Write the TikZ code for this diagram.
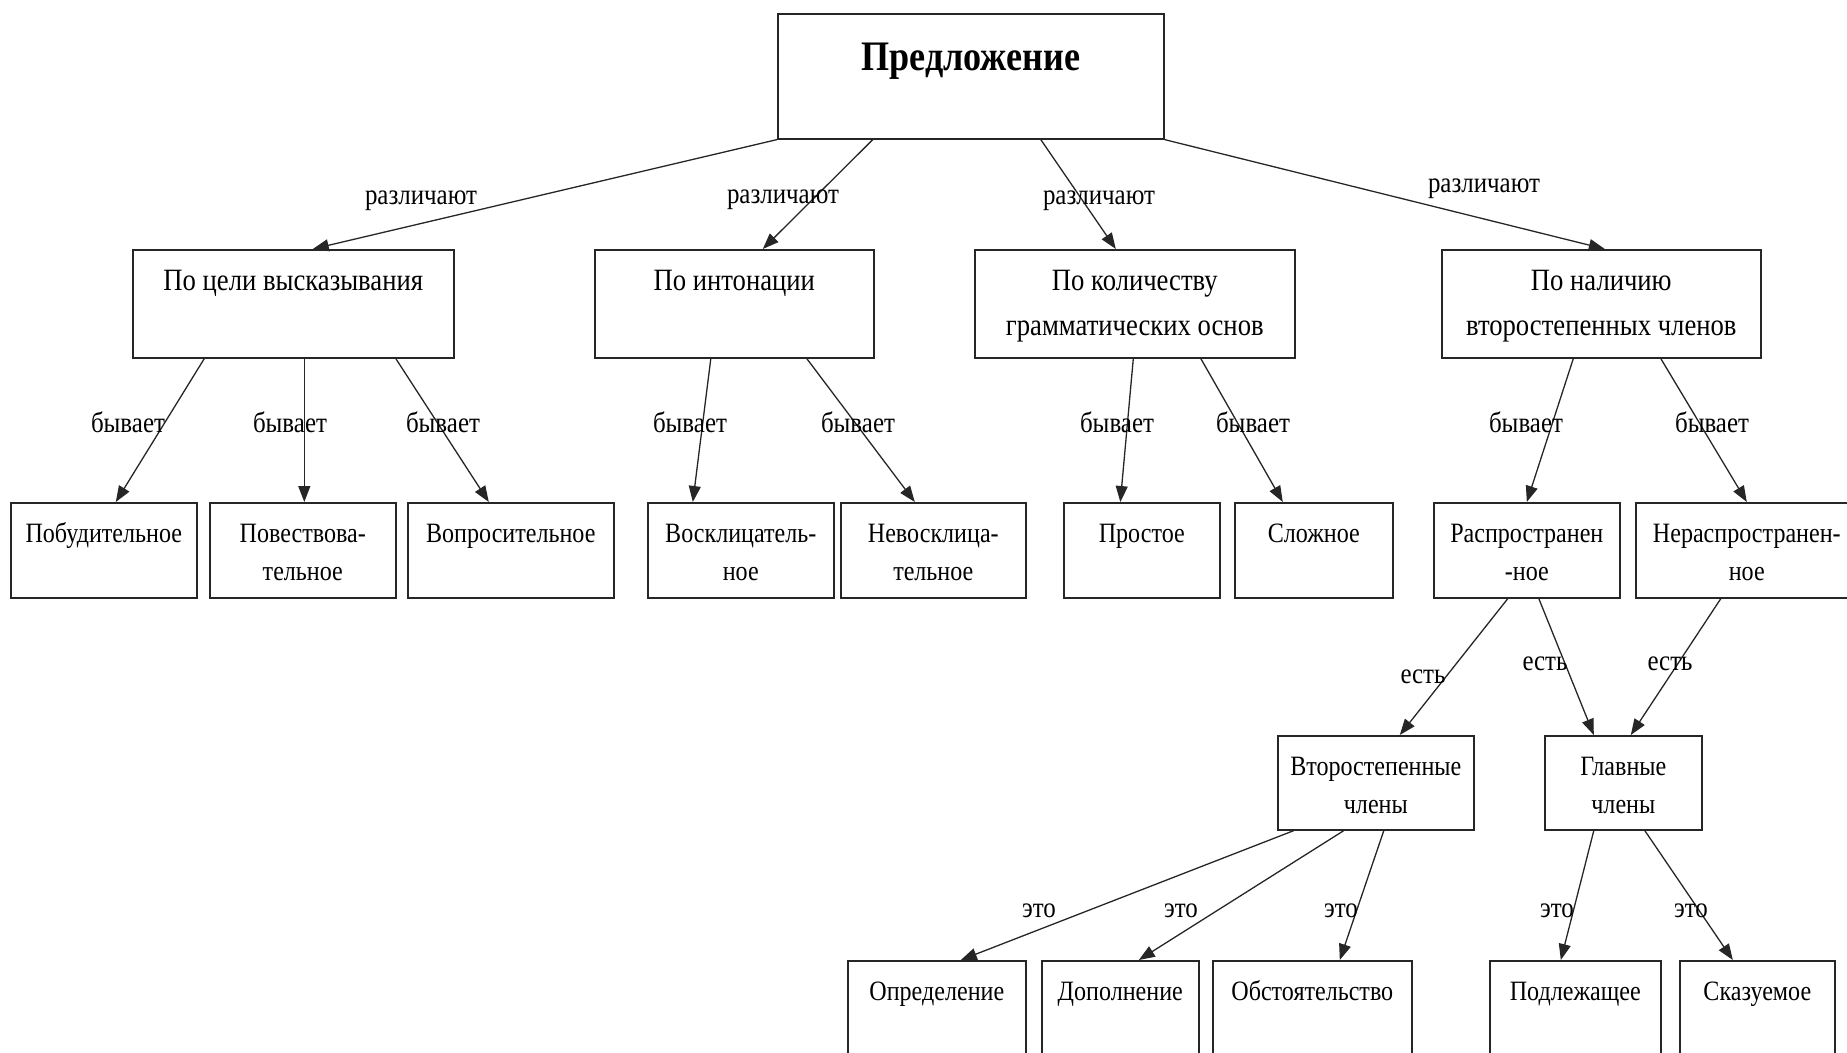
\documentclass[tikz,border=0pt]{standalone}
\usepackage{fontspec}
\setmainfont[FakeStretch=0.86]{Liberation Serif}
\usetikzlibrary{arrows.meta}
\tikzset{term/.style={rectangle,draw=black!85,line width=1.6pt,inner sep=0pt,anchor=north west},
head/.style={term,font=\fontsize{42}{46}\selectfont\bfseries,execute at begin node={\def\boxgap{57pt}}},
crit/.style={term,font=\fontsize{31}{45}\selectfont,execute at begin node={\def\boxgap{41pt}}},
kind/.style={term,font=\fontsize{28}{37.5}\selectfont},
verb/.style={anchor=base,inner sep=0pt,font=\fontsize{29}{29}\selectfont},
rel/.style={->,line width=1.3pt,draw=black!85},
>={Triangle[length=16pt,width=12pt]}}
\newcommand{\boxgap}{40pt}
\newcommand{\termbox}[7]{
\node (#1) [#2] at (#3,#4) {\parbox[t][#6pt][t]{#5pt}{\centering\rule{0pt}{\boxgap}#7}};
}
\begin{document}
\begin{tikzpicture}[x=1pt,y=-1pt]
  \useasboundingbox (0,0) rectangle (1847,1052);
  \clip (0,0) rectangle (1847,1052);
  \termbox{sent}{head}{777}{13}{386}{125}{Предложение}

  \termbox{goal}{crit}{132}{249}{321}{108}{По цели высказывания}
  \termbox{inton}{crit}{594}{249}{279}{108}{По интонации}
  \termbox{basis}{crit}{974}{249}{320}{108}{По количеству\\грамматических основ}
  \termbox{minor}{crit}{1441}{249}{319}{108}{По наличию\\второстепенных членов}

  \termbox{goal1}{kind}{10}{502}{186}{95}{Побудительное}
  \termbox{goal2}{kind}{209}{502}{186}{95}{Повествова-\\тельное}
  \termbox{goal3}{kind}{407}{502}{206}{95}{Вопросительное}
  \termbox{inton1}{kind}{647}{502}{186}{95}{Восклицатель-\\ное}
  \termbox{inton2}{kind}{840}{502}{185}{95}{Невосклица-\\тельное}
  \termbox{basis1}{kind}{1063}{502}{156}{95}{Простое}
  \termbox{basis2}{kind}{1234}{502}{158}{95}{Сложное}
  \termbox{minor1}{kind}{1433}{502}{186}{95}{Распространен\\-ное}
  \termbox{minor2}{kind}{1635}{502}{222}{95}{Нераспространен-\\ное}

  \termbox{second}{kind}{1277}{735}{196}{94}{Второстепенные\\члены}
  \termbox{main}{kind}{1544}{735}{157}{94}{Главные\\члены}

  \termbox{second1}{kind}{847}{960}{178}{120}{Определение}
  \termbox{second2}{kind}{1041}{960}{157}{120}{Дополнение}
  \termbox{second3}{kind}{1212}{960}{199}{120}{Обстоятельство}
  \termbox{main1}{kind}{1489}{960}{171}{120}{Подлежащее}
  \termbox{main2}{kind}{1679}{960}{155}{120}{Сказуемое}

  % level 1
  \draw [rel] (sent.south west) -- ([xshift=19.5pt]goal.north);
  \draw [rel] ([xshift=-98pt]sent.south) -- ([xshift=28.5pt]inton.north);
  \draw [rel] ([xshift=70pt]sent.south) -- ([xshift=-19pt]basis.north);
  \draw [rel] (sent.south east) -- ([xshift=3.5pt]minor.north);
  \node (vgoal) [verb] at (421,204) {различают};
  \node (vinton) [verb] at (783,203) {различают};
  \node (vbasis) [verb] at (1099,204) {различают};
  \node (vminor) [verb] at (1484,192) {различают};

  % level 2
  \draw [rel] ([xshift=-89pt]goal.south) -- ([xshift=12pt]goal1.north);
  \draw [rel] ([xshift=11pt]goal.south) -- ([xshift=1.5pt]goal2.north);
  \draw [rel] ([xshift=102.5pt]goal.south) -- ([xshift=-22pt]goal3.north);
  \draw [rel] ([xshift=-23.5pt]inton.south) -- ([xshift=-48pt]inton1.north);
  \draw [rel] ([xshift=72.5pt]inton.south) -- ([xshift=-18.5pt]inton2.north);
  \draw [rel] ([xshift=-1.5pt]basis.south) -- ([xshift=-21.5pt]basis1.north);
  \draw [rel] ([xshift=66pt]basis.south) -- ([xshift=-31pt]basis2.north);
  \draw [rel] ([xshift=-28pt]minor.south) -- (minor1.north);
  \draw [rel] ([xshift=59.5pt]minor.south) -- (minor2.north);
  \node (vgoal1) [verb] at (128,432) {бывает};
  \node (vgoal2) [verb] at (290,432) {бывает};
  \node (vgoal3) [verb] at (443,432) {бывает};
  \node (vinton1) [verb] at (690,432) {бывает};
  \node (vinton2) [verb] at (858,432) {бывает};
  \node (vbasis1) [verb] at (1117,432) {бывает};
  \node (vbasis2) [verb] at (1253,432) {бывает};
  \node (vminor1) [verb] at (1526,432) {бывает};
  \node (vminor2) [verb] at (1712,432) {бывает};

  % level 3
  \draw [rel] ([xshift=-19pt]minor1.south) -- ([xshift=24pt]second.north);
  \draw [rel] ([xshift=12pt]minor1.south) -- ([xshift=-29.5pt]main.north);
  \draw [rel] ([xshift=-26pt]minor2.south) -- ([xshift=7.5pt]main.north);
  \node (vsecond) [verb] at (1423,683) {есть};
  \node (vmain1) [verb] at (1545,670) {есть};
  \node (vmain2) [verb] at (1670,670) {есть};

  % level 4
  \draw [rel] ([xshift=-82pt]second.south) -- ([xshift=24pt]second1.north);
  \draw [rel] ([xshift=-32pt]second.south) -- ([xshift=18.5pt]second2.north);
  \draw [rel] ([xshift=8pt]second.south) -- ([xshift=27.5pt]second3.north);
  \draw [rel] ([xshift=-29.5pt]main.south) -- ([xshift=-14.5pt]main1.north);
  \draw [rel] ([xshift=21.5pt]main.south) -- ([xshift=-24.5pt]main2.north);
  \node (vsecond1) [verb] at (1039,917) {это};
  \node (vsecond2) [verb] at (1181,917) {это};
  \node (vsecond3) [verb] at (1341,917) {это};
  \node (vmain3) [verb] at (1557,917) {это};
  \node (vmain4) [verb] at (1691,917) {это};
\end{tikzpicture}
\end{document}
